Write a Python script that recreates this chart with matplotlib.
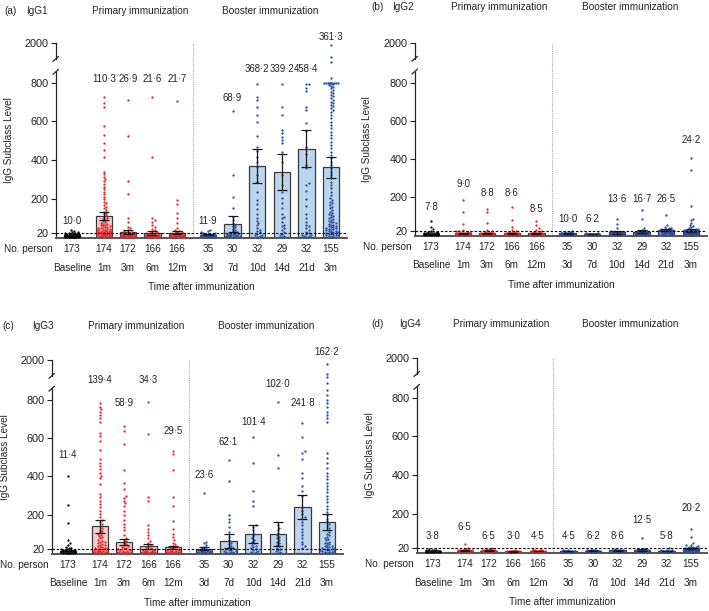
import numpy as np
import matplotlib
matplotlib.use("Agg")
import matplotlib.pyplot as plt
from matplotlib.transforms import blended_transform_factory

plt.rcParams['font.family'] = ['Liberation Sans', 'DejaVu Sans']

# ---------------- data ----------------
categories = ['Baseline', '1m', '3m', '6m', '12m', '3d', '7d', '10d', '14d', '21d', '3m']
n_person = [173, 174, 172, 166, 166, 35, 30, 32, 29, 32, 155]
subclasses = ['IgG1', 'IgG2', 'IgG3', 'IgG4']
panel_letters = ['(a)', '(b)', '(c)', '(d)']
y_ticks = [20, 200, 400, 600, 800, 2000]
cutoff = 20

igg1_mean = [10.0, 110.3, 26.9, 21.6, 21.7, 11.9, 68.9, 368.2, 339.2, 458.4, 361.3]
igg1_ci_low = [8, 90, 18, 12, 14, 8, 28, 281, 245, 364, 307]
igg1_ci_high = [12, 130, 37, 32, 30, 16, 109, 455, 431, 556, 416]
igg1_points = [
    [38, 30, 27, 24, 22, 20, 19, 18, 17, 16, 15, 15, 14, 14, 13, 13, 12, 12, 12, 11, 11, 11, 10, 10, 10, 10,
     9, 9, 9, 9, 8, 8, 8, 8, 8, 7, 7, 7, 7, 7, 6, 6, 6, 6, 6, 6, 5, 5, 5, 5, 5, 5, 4, 4, 4, 4, 4, 4,
     3, 3, 3, 3, 3, 3, 2, 2, 2, 2, 2, 2, 1, 1, 1, 1, 1],
    [729, 695, 677, 578, 530, 487, 452, 414, 339, 326, 313, 301, 290, 276, 262, 250, 236, 222, 210, 198, 184,
     175, 166, 158, 149, 140, 132, 125, 118, 112, 106, 100, 95, 90, 86, 82, 78, 74, 70, 67, 64, 61, 58, 55,
     52, 50, 48, 46, 44, 42, 40, 38, 36, 35, 33, 32, 30, 29, 28, 27, 26, 25, 24, 23, 22, 21, 20, 19, 18, 17,
     16, 15, 14, 13, 12, 11, 10, 9, 8, 7, 6, 5, 4, 3, 2],
    [712, 526, 293, 222, 100, 80, 54, 45, 37, 32, 28, 25, 22, 20, 18, 16, 15, 14, 13, 12, 11, 10, 9, 9, 8, 8,
     7, 7, 6, 6, 5, 5, 5, 4, 4, 4, 3, 3, 3, 2, 2, 2, 1, 1, 1, 1],
    [729, 417, 100, 90, 80, 65, 50, 42, 35, 30, 26, 22, 19, 17, 15, 13, 12, 11, 10, 9, 8, 8, 7, 7, 6, 6, 5, 5,
     4, 4, 4, 3, 3, 3, 2, 2, 2, 1, 1, 1],
    [707, 192, 170, 123, 97, 71, 45, 38, 32, 28, 24, 21, 18, 16, 14, 13, 12, 11, 10, 9, 8, 8, 7, 7, 6, 6, 5, 5,
     4, 4, 4, 3, 3, 3, 2, 2, 2, 1, 1, 1],
    [37, 30, 25, 22, 20, 18, 16, 15, 14, 13, 12, 11, 10, 10, 9, 9, 8, 8, 7, 7, 6, 6, 5, 5, 5, 4, 4, 4, 3, 3,
     3, 2, 2, 1, 1],
    [655, 322, 210, 152, 106, 90, 72, 65, 58, 50, 42, 36, 30, 26, 22, 20, 18, 16, 14, 12, 10, 9, 8, 7, 6, 5,
     4, 3, 2, 1],
    [793, 729, 712, 677, 634, 596, 525, 469, 447, 417, 391, 365, 322, 287, 236, 192, 170, 146, 120, 97, 85,
     71, 60, 45, 38, 30, 24, 18, 12, 8, 5, 2],
    [793, 677, 634, 556, 539, 521, 504, 487, 443, 391, 322, 270, 236, 204, 175, 149, 120, 106, 97, 80, 65, 55,
     45, 35, 25, 18, 12, 6, 2],
    [793, 793, 776, 759, 677, 660, 591, 552, 465, 430, 374, 357, 279, 270, 240, 200, 160, 120, 97, 80, 65, 55,
     45, 35, 28, 22, 16, 12, 8, 5, 3, 1],
    [1942, 1592, 1442, 945, 800, 800, 800, 800, 800, 800, 800, 800, 800, 800, 795, 790, 785, 780, 773, 765,
     755, 748, 738, 730, 721, 712, 703, 695, 686, 678, 669, 660, 651, 634, 620, 598, 580, 565, 548, 530, 512,
     496, 478, 461, 443, 426, 409, 391, 374, 357, 339, 322, 305, 287, 270, 253, 236, 218, 201, 192, 184, 175,
     166, 158, 149, 140, 132, 125, 118, 114, 108, 102, 97, 92, 88, 84, 80, 76, 72, 68, 65, 62, 58, 55, 52, 50,
     48, 45, 42, 40, 38, 35, 32, 30, 28, 26, 24, 22, 20, 18, 16, 14, 12, 10, 8, 6, 4, 2],
]

igg2_mean = [7.8, 9.0, 8.8, 8.6, 8.5, 10.0, 6.2, 13.6, 16.7, 26.5, 24.2]
igg2_ci_low = [6.5, 6, 6.5, 6.3, 7, 7.5, 5, 8, 9, 20, 16]
igg2_ci_high = [9, 12, 11, 11, 10, 12.5, 7.5, 19, 24, 33, 32]
igg2_points = [
    [72, 43, 30, 22, 18, 15, 13, 12, 11, 10, 10, 9, 9, 8, 8, 8, 7, 7, 7, 6, 6, 6, 6, 5, 5, 5, 5, 4, 4, 4, 4,
     3, 3, 3, 3, 2, 2, 2, 2, 1, 1, 1],
    [184, 120, 57, 26, 22, 19, 17, 15, 13, 12, 11, 10, 10, 9, 9, 8, 8, 7, 7, 7, 6, 6, 6, 5, 5, 5, 4, 4, 4, 3,
     3, 3, 2, 2, 2, 1, 1],
    [138, 120, 64, 26, 21, 18, 15, 13, 12, 11, 10, 9, 9, 8, 8, 7, 7, 6, 6, 6, 5, 5, 5, 4, 4, 4, 3, 3, 3, 2, 2,
     2, 1, 1],
    [146, 78, 43, 26, 20, 17, 15, 13, 12, 11, 10, 9, 9, 8, 8, 7, 7, 6, 6, 6, 5, 5, 5, 4, 4, 4, 3, 3, 3, 2, 2,
     2, 1, 1],
    [74, 52, 35, 25, 20, 17, 15, 13, 12, 11, 10, 9, 9, 8, 8, 7, 7, 6, 6, 6, 5, 5, 5, 4, 4, 4, 3, 3, 3, 2, 2,
     2, 1, 1],
    [20, 17, 15, 13, 12, 11, 10, 10, 9, 9, 8, 8, 7, 7, 6, 6, 5, 5, 5, 4, 4, 4, 3, 3, 3, 2, 2, 2, 1, 1],
    [10, 9, 8, 8, 7, 7, 6, 6, 6, 5, 5, 5, 5, 4, 4, 4, 4, 3, 3, 3, 3, 2, 2, 2, 1, 1],
    [86, 60, 35, 22, 18, 15, 13, 12, 11, 10, 9, 9, 8, 8, 7, 7, 6, 6, 5, 5, 5, 4, 4, 4, 3, 3, 3, 2, 2, 1],
    [129, 86, 35, 26, 22, 19, 17, 15, 14, 13, 12, 11, 10, 9, 9, 8, 8, 7, 7, 6, 6, 5, 5, 4, 4, 3, 3, 2, 1],
    [103, 52, 43, 38, 35, 32, 30, 28, 26, 25, 24, 22, 21, 20, 19, 18, 17, 16, 15, 14, 13, 12, 11, 10, 9, 8,
     7, 6, 5, 4, 3, 2],
    [404, 339, 155, 86, 78, 64, 52, 45, 40, 35, 32, 30, 28, 26, 25, 24, 23, 22, 21, 20, 19, 18, 17, 16, 15,
     14, 14, 13, 13, 12, 12, 11, 11, 10, 10, 9, 9, 8, 8, 7, 7, 6, 6, 5, 5, 4, 4, 3, 3, 2, 2, 1, 1],
]

igg3_mean = [11.4, 139.4, 58.9, 34.3, 29.5, 23.6, 62.1, 101.4, 102.0, 241.8, 162.2]
igg3_ci_low = [5, 105, 40, 20, 22, 14, 28, 50, 35, 178, 120]
igg3_ci_high = [18, 170, 75, 45, 37, 33, 97, 147, 163, 305, 202]
igg3_points = [
    [403, 253, 157, 67, 50, 40, 32, 28, 24, 21, 19, 17, 15, 14, 13, 12, 11, 10, 10, 9, 9, 8, 8, 7, 7, 7, 6, 6,
     6, 5, 5, 5, 4, 4, 4, 3, 3, 3, 2, 2, 2, 1, 1, 1],
    [781, 764, 750, 738, 721, 703, 686, 626, 609, 583, 540, 489, 471, 454, 437, 420, 403, 391, 360, 308, 291,
     274, 257, 239, 222, 205, 187, 170, 160, 150, 140, 130, 122, 115, 108, 100, 94, 88, 82, 76, 70, 65, 60,
     56, 52, 48, 44, 40, 37, 34, 31, 28, 26, 24, 22, 20, 18, 16, 14, 12, 10, 9, 8, 7, 6, 5, 4, 3, 2, 1],
    [661, 635, 569, 432, 363, 334, 299, 289, 274, 260, 248, 222, 196, 170, 153, 136, 119, 93, 80, 70, 62, 55,
     48, 42, 36, 32, 28, 24, 20, 17, 14, 12, 10, 8, 7, 6, 5, 4, 3, 2, 1],
    [790, 621, 291, 270, 145, 128, 110, 93, 76, 62, 50, 42, 35, 29, 24, 20, 17, 14, 12, 10, 9, 8, 7, 6, 5, 4,
     3, 2, 1],
    [532, 515, 434, 291, 248, 167, 128, 102, 84, 67, 55, 45, 38, 32, 27, 23, 20, 17, 14, 12, 10, 9, 8, 7, 6,
     5, 4, 3, 2, 1],
    [311, 58, 50, 40, 32, 26, 22, 18, 15, 13, 11, 10, 9, 8, 7, 6, 5, 4, 3, 2, 1],
    [485, 377, 196, 179, 162, 136, 110, 84, 67, 55, 45, 38, 32, 26, 22, 18, 15, 12, 10, 8, 6, 4, 2],
    [604, 468, 325, 274, 248, 145, 135, 119, 102, 90, 76, 66, 58, 50, 42, 36, 30, 25, 20, 16, 12, 8, 5, 2],
    [790, 511, 445, 145, 130, 119, 105, 93, 85, 76, 68, 58, 50, 42, 35, 28, 22, 16, 10, 5, 2],
    [678, 604, 532, 522, 489, 420, 394, 351, 325, 296, 239, 222, 205, 187, 179, 162, 145, 128, 110, 93, 76,
     58, 45, 35, 25],
    [1881, 1586, 1490, 1300, 1095, 939, 800, 781, 764, 738, 721, 703, 686, 523, 497, 471, 445, 420, 403, 386,
     368, 351, 334, 317, 299, 282, 265, 248, 231, 213, 196, 179, 165, 150, 140, 130, 120, 110, 100, 92, 85,
     78, 72, 66, 60, 55, 50, 46, 42, 38, 35, 32, 29, 26, 24, 22, 20, 18, 16, 14, 12, 10, 8, 6, 4, 2],
]

igg4_mean = [3.8, 6.5, 6.5, 3.0, 4.5, 4.5, 6.2, 8.6, 12.5, 5.8, 20.2]
igg4_ci_low = [3, 5, 5, 2.5, 3.5, 3, 4.5, 6, 7, 4, 17]
igg4_ci_high = [4.6, 8, 8, 3.5, 5.5, 6, 8, 11, 18, 7.5, 23.5]
igg4_points = [
    [15, 12, 10, 9, 8, 7, 6, 6, 5, 5, 4, 4, 4, 3, 3, 3, 3, 2, 2, 2, 2, 1, 1, 1],
    [42, 22, 18, 15, 13, 12, 10, 9, 8, 8, 7, 7, 6, 6, 5, 5, 4, 4, 3, 3, 2, 2, 1, 1],
    [19, 16, 14, 12, 11, 10, 9, 8, 8, 7, 7, 6, 6, 5, 5, 4, 4, 3, 3, 2, 2, 1, 1],
    [8, 6, 5, 4, 4, 3, 3, 3, 2, 2, 2, 2, 1, 1, 1],
    [14, 11, 9, 8, 7, 6, 6, 5, 5, 4, 4, 4, 3, 3, 2, 2, 1, 1],
    [10, 8, 7, 6, 5, 5, 4, 4, 3, 3, 2, 2, 1, 1],
    [12, 10, 9, 8, 7, 6, 6, 5, 5, 4, 4, 3, 3, 2, 2, 1],
    [15, 12, 10, 9, 8, 7, 6, 6, 5, 5, 4, 4, 3, 3, 2, 1],
    [71, 18, 15, 13, 11, 10, 9, 8, 7, 6, 5, 5, 4, 3, 2, 1],
    [20, 12, 9, 8, 7, 6, 5, 5, 4, 4, 3, 3, 2, 2, 1],
    [120, 77, 45, 38, 34, 30, 28, 26, 25, 24, 23, 22, 21, 20, 19, 18, 18, 17, 16, 16, 15, 15, 14, 14, 13, 13,
     12, 12, 11, 11, 10, 10, 9, 9, 8, 8, 7, 7, 6, 6, 5, 5, 4, 4, 3, 3, 2, 2, 1],
]

# ---------------- layout / style ----------------
FIG_W, FIG_H = 709, 611
# panel boxes in pixels: left, right, top, bottom
panel_boxes = [(56, 347, 43, 238), (415, 707, 43, 236), (52, 343, 360, 554), (417, 707, 358, 553)]
x_pos = [0, 1.3, 2.27, 3.27, 4.27, 5.53, 6.53, 7.53, 8.53, 9.53, 10.53]
x_lim = (-0.65, 11.18)
sep_x = 4.9
label_y = [
    [0.087, 0.815, 0.815, 0.815, 0.815, 0.087, 0.718, 0.867, 0.867, 0.867, 1.03],
    [0.150, 0.269, 0.223, 0.223, 0.140, 0.088, 0.088, 0.192, 0.192, 0.192, 0.497],
    [0.51, 0.897, 0.778, 0.897, 0.634, 0.407, 0.577, 0.68, 0.876, 0.778, 1.04],
    [0.087, 0.133, 0.087, 0.087, 0.087, 0.087, 0.087, 0.087, 0.169, 0.087, 0.231],
]
title_y = [1.164, 1.187, 1.175, 1.174]
letter_x = [-0.158, -0.130, -0.151, -0.137]
name_x = [-0.103, -0.079, -0.069, -0.062]

RED = '#e3262b'
BLUE = '#2a4c9f'
PINK = '#f6cdcd'
LBLUE = '#bcd4ec'
group_kind = ['base'] + ['prim'] * 4 + ['boost'] * 6
dot_col = {'base': 'black', 'prim': RED, 'boost': BLUE}
bar_col = {'base': 'white', 'prim': PINK, 'boost': LBLUE}

K = 0.173
YMIN, YMAX = -5, 2000


def fwd(y):
    y = np.asarray(y, dtype=float)
    return np.where(y <= 800, y, 800 + (y - 800) * K)


def inv(y):
    y = np.asarray(y, dtype=float)
    return np.where(y <= 800, y, 800 + (y - 800) / K)


def swarm(center, vals, ppx, ppy, d=2.3, half=0.31):
    v = np.asarray(vals, dtype=float)
    ypx = fwd(v) * ppy
    order = np.argsort(ypx, kind='stable')
    maxpx = half * ppx
    step = d / 2.0
    cands = [0.0]
    k = 1
    while k * step <= maxpx:
        cands += [k * step, -k * step]
        k += 1
    cands = np.array(cands)
    px = np.zeros(len(v))
    PX, PY = [], []
    for i in order:
        yi = ypx[i]
        j = 0
        if PX:
            ax_ = np.array(PX)
            ay_ = np.array(PY)
            near = np.abs(ay_ - yi) < d
            if near.any():
                dx = cands[:, None] - ax_[near][None, :]
                dy = (ay_[near] - yi)[None, :]
                dist = np.sqrt(dx ** 2 + dy ** 2).min(axis=1)
                ok = np.where(dist >= d)[0]
                j = ok[0] if len(ok) else int(np.argmax(dist))
        PX.append(cands[j])
        PY.append(yi)
        px[i] = cands[j]
    return center + px / ppx


def fmt(v):
    return f"{v:.1f}".replace('.', '\u00b7')


fig = plt.figure(figsize=(FIG_W / 100, FIG_H / 100), dpi=100)

panels = [
    (igg1_mean, igg1_ci_low, igg1_ci_high, igg1_points),
    (igg2_mean, igg2_ci_low, igg2_ci_high, igg2_points),
    (igg3_mean, igg3_ci_low, igg3_ci_high, igg3_points),
    (igg4_mean, igg4_ci_low, igg4_ci_high, igg4_points),
]

FS = 7.2
FS_NUM = 6.9
TXT = '#222222'
for p, (means, lo, hi, pts) in enumerate(panels):
    l, r, t, b = panel_boxes[p]
    ax = fig.add_axes([l / FIG_W, 1 - b / FIG_H, (r - l) / FIG_W, (b - t) / FIG_H])
    ax.set_yscale('function', functions=(fwd, inv))
    ax.set_xlim(*x_lim)
    ax.set_ylim(YMIN, YMAX)
    ppx = (r - l) / (x_lim[1] - x_lim[0])
    ppy = (b - t) / (float(fwd(YMAX)) - float(fwd(YMIN)))

    means_a = np.array(means)
    ax.bar(x_pos, means, width=0.66, color=[bar_col[g] for g in group_kind],
           edgecolor='#3a3a3a', linewidth=0.9, zorder=2)
    for i, vals in enumerate(pts):
        xs = swarm(x_pos[i], vals, ppx, ppy)
        ax.scatter(xs, vals, s=2.7, c=dot_col[group_kind[i]], linewidths=0, zorder=3)
    ax.errorbar(x_pos, means, yerr=[means_a - np.array(lo), np.array(hi) - means_a], fmt='none',
                ecolor='#1a1a1a', elinewidth=0.9, capsize=3.3, capthick=0.9, zorder=4)
    ax.axhline(cutoff, color='black', lw=0.8, ls=(0, (2.2, 1.6)), zorder=5)
    ax.axvline(sep_x, color='#a8a8a8', lw=0.8, ls=(0, (1, 1)), zorder=1)

    for s in ['top', 'right', 'left']:
        ax.spines[s].set_visible(False)
    ax.spines['bottom'].set_color('#555555')
    ax.spines['bottom'].set_linewidth(1.4)
    ax.set_xticks([])
    ax.set_yticks(y_ticks)
    ax.set_yticklabels([str(v) for v in y_ticks])
    ax.yaxis.set_minor_locator(matplotlib.ticker.NullLocator())
    ax.tick_params(axis='y', length=3.5, width=0.8, labelsize=7.8, pad=2, colors=TXT)

    # broken left spine
    f1, f2 = 0.852, 0.918
    ax.plot([0, 0], [0, f1], transform=ax.transAxes, color=TXT, lw=0.9, clip_on=False)
    ax.plot([0, 0], [f2, 1], transform=ax.transAxes, color=TXT, lw=0.9, clip_on=False)
    for fy in (f1, f2):
        ax.plot([-0.010, 0.008], [fy - 0.012, fy + 0.012], transform=ax.transAxes,
                color=TXT, lw=0.9, clip_on=False)

    bt = blended_transform_factory(ax.transData, ax.transAxes)
    for i, m in enumerate(means):
        ax.text(x_pos[i], label_y[p][i], fmt(m), transform=bt, ha='center', va='center',
                fontsize=FS_NUM, color=TXT)
        ax.text(x_pos[i], -0.058, str(n_person[i]), transform=bt, ha='center', va='center',
                fontsize=FS, color=TXT)
        ax.text(x_pos[i], -0.152, categories[i], transform=bt, ha='center', va='center',
                fontsize=FS, color=TXT)
    ax.text(-0.012, -0.058, 'No. person', transform=ax.transAxes, ha='right', va='center',
            fontsize=FS, color=TXT)
    ax.text(0.5, -0.252, 'Time after immunization', transform=ax.transAxes, ha='center',
            va='center', fontsize=FS, color=TXT)
    ax.text(-0.163, 0.5, 'IgG Subclass Level', transform=ax.transAxes, rotation=90,
            ha='center', va='center', fontsize=FS, color=TXT)

    ax.text(letter_x[p], title_y[p], panel_letters[p], transform=ax.transAxes, ha='center',
            va='center', fontsize=FS, color=TXT)
    ax.text(name_x[p], title_y[p], subclasses[p], transform=ax.transAxes, ha='left',
            va='center', fontsize=FS, color=TXT)
    ax.text(2.78, title_y[p], 'Primary immunization', transform=bt, ha='center', va='center',
            fontsize=FS, color=TXT)
    ax.text(8.05, title_y[p], 'Booster immunization', transform=bt, ha='center', va='center',
            fontsize=FS, color=TXT)

fig.savefig('out.png', dpi=100)
